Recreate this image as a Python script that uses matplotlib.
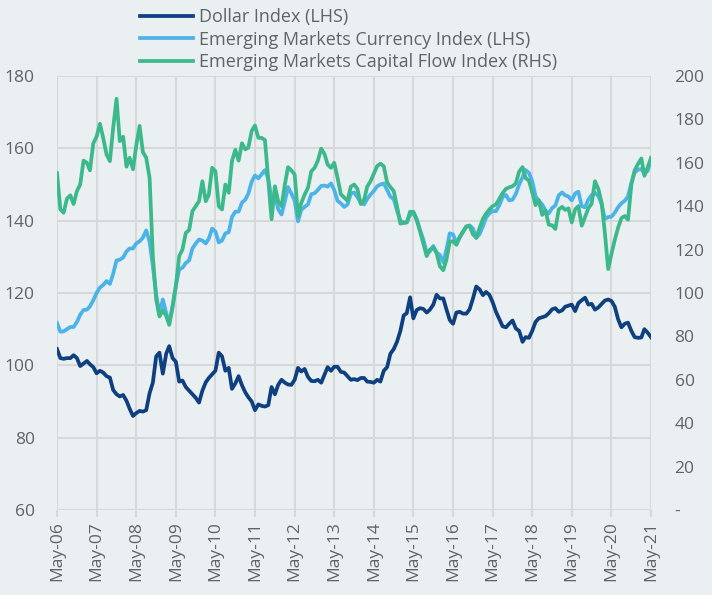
import matplotlib
matplotlib.use("Agg")
import matplotlib.pyplot as plt
import matplotlib.dates as mdates
import pandas as pd
import numpy as np

plt.rcParams['font.family'] = ['Open Sans', 'DejaVu Sans']

# Monthly data, May-2006 .. May-2021
start_month = "2006-05-01"

dollar_index = [
    104.5, 102.0, 101.8, 102.0, 102.0, 102.8, 102.0, 99.8, 100.5, 101.2,
    100.3, 99.5, 97.8, 98.5, 98.0, 97.0, 96.6, 93.2, 92.0, 91.4,
    91.8, 90.2, 88.0, 86.0, 86.8, 87.4, 87.2, 87.6, 92.3, 95.2,
    102.5, 103.5, 97.7, 103.2, 105.3, 102.0, 101.0, 95.5, 95.8, 94.0,
    93.0, 92.0, 91.0, 89.7, 93.0, 95.3, 96.5, 97.5, 98.5, 103.5,
    102.5, 98.5, 99.3, 93.5, 95.0, 97.0, 94.5, 92.5, 91.2, 90.0,
    87.6, 89.2, 88.8, 88.6, 89.0, 94.0, 92.0, 94.6, 96.0, 95.2,
    94.7, 94.6, 96.0, 99.3, 98.3, 99.0, 96.8, 95.7, 95.6, 96.0,
    95.2, 97.5, 99.5, 98.5, 99.6, 99.6, 98.2, 98.0, 97.0, 96.0,
    96.2, 95.9, 96.5, 96.5, 95.5, 95.4, 95.2, 96.0, 95.5, 98.5,
    99.5, 103.2, 104.5, 106.5, 109.5, 113.8, 114.4, 118.8, 113.0, 115.3,
    115.8, 115.6, 114.6, 115.4, 116.8, 119.5, 118.5, 118.5, 115.5, 112.5,
    111.5, 114.6, 114.8, 114.3, 114.3, 115.5, 118.5, 121.8, 121.0, 119.4,
    120.3, 119.5, 117.5, 114.8, 112.8, 110.8, 110.5, 111.5, 112.4, 110.2,
    109.5, 106.5, 107.8, 107.6, 109.5, 112.0, 113.0, 113.3, 113.6, 114.4,
    115.5, 115.8, 114.8, 115.2, 116.2, 116.5, 116.8, 115.0, 117.2, 118.0,
    118.7, 116.8, 117.0, 115.4, 116.0, 117.0, 117.9, 118.2, 117.8, 116.2,
    112.8, 110.5, 111.5, 111.8, 109.5, 107.8, 107.6, 107.7, 110.0, 109.0,
    107.8,
]

em_currency_index = [
    111.7, 109.3, 109.4, 110.0, 110.6, 110.6, 112.0, 114.0, 115.3, 115.4,
    116.3, 118.0, 120.0, 121.5, 122.2, 123.3, 122.5, 125.3, 129.0, 129.2,
    129.8, 131.5, 132.3, 132.3, 133.7, 134.3, 135.3, 137.3, 134.2, 127.5,
    119.5, 114.2, 118.2, 114.5, 111.6, 116.5, 122.0, 126.5, 127.0, 128.3,
    129.0, 132.3, 133.7, 134.8, 134.5, 133.7, 135.0, 137.8, 137.0, 134.0,
    134.5, 136.5, 136.8, 141.0, 142.5, 142.5, 145.0, 145.8, 147.5, 150.8,
    152.5, 151.7, 152.8, 154.0, 151.5, 146.0, 147.2, 143.2, 141.7, 145.4,
    149.3, 147.5, 145.5, 139.8, 143.0, 143.8, 144.5, 147.3, 147.6, 148.5,
    149.6, 149.7, 149.4, 150.3, 148.5, 145.5, 144.8, 143.8, 144.5, 147.5,
    147.8, 146.5, 145.0, 144.5, 146.0, 147.2, 148.2, 149.5, 150.0, 150.3,
    148.5, 146.6, 146.0, 142.8, 140.0, 139.5, 139.5, 141.5, 142.5, 140.5,
    137.5, 134.8, 131.2, 131.5, 133.0, 131.2, 130.5, 128.5, 132.0, 136.5,
    136.2, 133.8, 135.5, 137.0, 138.3, 138.7, 137.8, 135.2, 136.3, 138.5,
    140.8, 142.0, 142.7, 142.6, 144.2, 146.5, 147.1, 145.6, 145.8, 147.4,
    150.0, 152.0, 154.0, 153.2, 151.0, 146.8, 145.5, 144.5, 142.8, 142.0,
    143.5, 144.2, 147.0, 147.8, 147.0, 146.7, 145.6, 147.5, 148.0, 144.0,
    143.7, 145.8, 147.1, 147.7, 146.8, 144.6, 140.5, 141.0, 141.1, 142.2,
    143.7, 144.8, 145.5, 146.7, 150.5, 153.3, 154.1, 154.3, 153.0, 153.8,
    156.9,
]

em_capital_flow_index = [
    155.3, 138.5, 137.0, 143.5, 145.0, 141.0, 147.0, 150.0, 161.0, 160.0,
    156.5, 169.0, 172.0, 178.0, 171.5, 163.8, 160.8, 176.0, 189.5, 170.0,
    172.0, 158.2, 162.3, 157.0, 168.0, 177.0, 165.0, 162.3, 153.0, 117.0,
    97.0, 89.2, 92.0, 89.5, 85.3, 93.5, 103.0, 117.0, 120.0, 127.7,
    129.0, 137.7, 140.0, 142.3, 151.5, 142.3, 145.3, 157.7, 156.2, 140.0,
    138.5, 150.0, 146.2, 160.8, 166.0, 161.0, 169.0, 166.2, 167.0, 174.7,
    177.2, 171.5, 171.5, 170.5, 152.0, 134.0, 149.2, 142.3, 140.0, 150.0,
    158.0, 156.5, 154.7, 135.5, 141.5, 145.3, 148.5, 156.0, 157.7, 161.0,
    166.5, 164.0, 159.2, 157.7, 160.0, 153.0, 145.5, 144.0, 142.5, 149.0,
    150.0, 148.0, 141.0, 143.0, 149.0, 151.5, 155.0, 158.5, 159.6, 158.4,
    151.0, 148.8, 147.0, 140.0, 132.0, 132.3, 132.5, 137.5, 137.2, 133.5,
    128.5, 122.8, 117.0, 120.0, 121.0, 118.5, 112.3, 110.5, 115.3, 123.8,
    123.8, 122.2, 125.5, 128.2, 130.8, 130.8, 127.0, 125.5, 130.0, 134.2,
    136.5, 138.5, 140.0, 140.8, 143.3, 146.0, 148.0, 148.7, 149.2, 150.5,
    156.0, 158.0, 153.0, 151.8, 146.5, 140.5, 142.8, 136.0, 138.0, 131.5,
    131.2, 129.5, 138.5, 139.7, 138.3, 139.0, 132.5, 138.5, 140.0, 131.0,
    135.0, 139.0, 141.2, 151.5, 148.0, 141.5, 128.0, 111.0, 118.0, 124.5,
    130.0, 134.5, 135.5, 133.8, 150.0, 156.5, 159.5, 162.0, 154.0, 158.0,
    162.3,
]

series_labels = [
    "Dollar Index (LHS)",
    "Emerging Markets Currency Index (LHS)",
    "Emerging Markets Capital Flow Index (RHS)",
]

left_ticks = [60, 80, 100, 120, 140, 160, 180]
right_ticks = [0, 20, 40, 60, 80, 100, 120, 140, 160, 180, 200]
right_tick_labels = ["-", "20", "40", "60", "80", "100", "120", "140", "160", "180", "200"]

dates = pd.date_range(start_month, periods=len(dollar_index), freq="MS")
tick_dates = pd.date_range("2006-05-01", "2021-05-01", freq="12MS")
tick_labels = [d.strftime("%b-%y") for d in tick_dates]

BG = "#eaeff2"
GRID = "#d6d8da"
TXT = "#5f6468"
C_DOLLAR = "#0e3f7f"
C_CUR = "#4cb3e8"
C_FLOW = "#3cb98b"

fig = plt.figure(figsize=(7.12, 5.95), dpi=100, facecolor=BG)
ax = fig.add_axes([57 / 712, 1 - 510 / 595, (651 - 57) / 712, (510 - 76) / 595])
ax.set_facecolor(BG)
ax2 = ax.twinx()

lw = 2.7
l1, = ax.plot(dates, dollar_index, color=C_DOLLAR, lw=lw, label=series_labels[0], solid_joinstyle="round")
l2, = ax.plot(dates, em_currency_index, color=C_CUR, lw=lw, label=series_labels[1], solid_joinstyle="round")
l3, = ax2.plot(dates, em_capital_flow_index, color=C_FLOW, lw=lw, label=series_labels[2], solid_joinstyle="round")

ax.set_xlim(tick_dates[0], tick_dates[-1])
ax.set_ylim(60, 180)
ax2.set_ylim(0, 200)

ax.set_xticks(tick_dates)
ax.set_xticklabels(tick_labels, rotation=90, color=TXT, fontsize=12.5)
ax.set_yticks(left_ticks)
ax.set_yticklabels([str(t) for t in left_ticks], color=TXT, fontsize=12.5)
ax2.set_yticks(right_ticks)
ax2.set_yticklabels(right_tick_labels, color=TXT, fontsize=12.5)

ax.grid(True, color=GRID, lw=1.5)
ax.set_axisbelow(True)
for a in (ax, ax2):
    for s in a.spines.values():
        s.set_visible(False)
ax.tick_params(axis="x", length=5, width=1.5, color=GRID, pad=3)
ax.tick_params(axis="y", length=0, pad=16)
ax2.tick_params(axis="y", length=0, pad=17)

leg = fig.legend(handles=[l1, l2, l3], labels=series_labels, loc="upper left",
                 bbox_to_anchor=(132 / 712, 1.0), frameon=False, fontsize=13,
                 handlelength=2.95, handletextpad=0.33, labelspacing=0.25,
                 borderaxespad=0.05)
for t in leg.get_texts():
    t.set_color(TXT)

fig.savefig("out.png", dpi=100, facecolor=BG)
